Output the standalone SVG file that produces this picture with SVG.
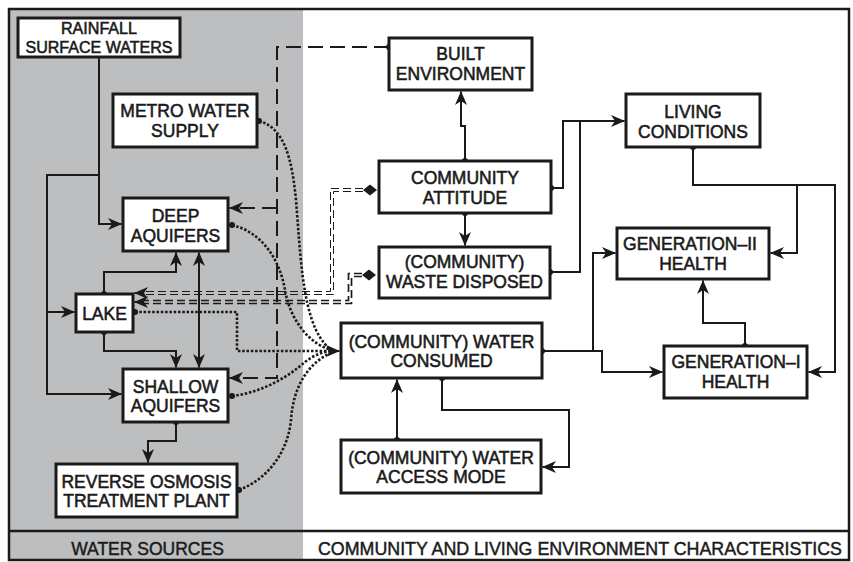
<svg xmlns="http://www.w3.org/2000/svg" width="853" height="562" viewBox="0 0 853 562">
<style>
.box{fill:#fff;stroke:#1a1a1a;stroke-width:3}
.t{font-family:"Liberation Sans",Arial,sans-serif;font-size:17.5px;fill:#1a1a1a;stroke:#1a1a1a;stroke-width:0.55;text-anchor:middle}
.ft{font-family:"Liberation Sans",Arial,sans-serif;font-size:18px;fill:#1a1a1a;stroke:#1a1a1a;stroke-width:0.45}
.ln{fill:none;stroke:#1a1a1a;stroke-width:2}
.ds{fill:none;stroke:#1a1a1a;stroke-width:2;stroke-dasharray:15 7}
.dd1{fill:none;stroke:#1a1a1a;stroke-width:1;stroke-dasharray:8 4}
.dd2{fill:none;stroke:#1a1a1a;stroke-width:1.7;stroke-dasharray:8 4}
.dt{fill:none;stroke:#1a1a1a;stroke-width:2.6;stroke-dasharray:2.5 1.8}
.a{marker-end:url(#arr)}
.s{marker-start:url(#dot)}
</style>
<defs>
<marker id="arr" viewBox="0 0 14 12" refX="13.5" refY="6" markerWidth="14" markerHeight="12" markerUnits="userSpaceOnUse" orient="auto-start-reverse">
<path d="M0,0 L14,6 L0,12 L4,6 z" fill="#1a1a1a"/>
</marker>
<marker id="dot" viewBox="0 0 8 8" refX="4" refY="4" markerWidth="7" markerHeight="7" markerUnits="userSpaceOnUse">
<circle cx="4" cy="4" r="3.5" fill="#1a1a1a"/>
</marker>
</defs>
<rect x="0" y="0" width="853" height="562" fill="#fff"/>
<g id="background">
<rect x="9" y="9" width="294" height="552" fill="#bcbec0"/>
<rect x="9" y="9" width="840" height="551" fill="none" stroke="#1a1a1a" stroke-width="2.5"/>
<line x1="9" y1="531" x2="849" y2="531" stroke="#1a1a1a" stroke-width="2.5"/>
<text class="ft" x="147.5" y="555" text-anchor="middle" style="font-size:17.5px">WATER SOURCES</text>
<text class="ft" x="318" y="555" textLength="524" lengthAdjust="spacingAndGlyphs">COMMUNITY AND LIVING ENVIRONMENT CHARACTERISTICS</text>
</g>
<g id="connectors">
<path class="ln a" d="M99,57 V224 H121.5"/>
<path class="ln a" d="M99,175 H47 V394 H121.5"/>
<path class="ln a" d="M47,312 H74.5"/>
<path class="ln a s" d="M104,294 V272 H176 V252.5"/>
<path class="ln a s" d="M104,332 V351 H176 V367.5"/>
<path class="ln a" style="marker-start:url(#arr)" d="M199,252.5 V367.5"/>
<path class="ln a s" d="M176,422 V441 H148 V462.5"/>
<path class="ln a s" d="M465,161 V126 H461 V91.5"/>
<path class="ln a s" d="M465,213 V245.5"/>
<path class="ln a s" d="M551,188 H563 V121 H624.5"/>
<path class="ln s" d="M550,272 H580 V121"/>
<path class="ln a s" d="M693,147 V185 H835 V372 H808.5"/>
<path class="ln a" d="M797,185 V253 H770.5"/>
<path class="ln a s" d="M542,351 H602 V372 H662.5"/>
<path class="ln a" d="M593,351 V253 H615.5"/>
<path class="ln a s" d="M745,346 V323 H703 V280.5"/>
<path class="ln a s" d="M442,378 V410 H569 V467 H542.5"/>
<path class="ln a s" d="M397,440 V379.5"/>
<path class="ds s" d="M389,47 H277 V378 H236"/>
<path class="ds" d="M277,208 H236"/>
<path class="ln a" d="M238,378 H229.5"/>
<path class="ln a" d="M238,208 H229.5"/>
<polygon points="363,190 370,184.5 377,190 370,195.5" fill="#1a1a1a"/>
<polygon points="362,275 369,269.5 376,275 369,280.5" fill="#1a1a1a"/>
<path class="dd1" d="M363,188.5 H330.5 V291.5 H140"/>
<path class="dd1" d="M363,191.5 H333.5 V294.5 H140"/>
<path class="dd2" d="M362,273.5 H348.5 V300.5 H140"/>
<path class="dd2" d="M362,276.5 H351.5 V303.5 H140"/>
<path class="ln a" d="M142,293 H134.5"/>
<path class="ln a" d="M142,302 H134.5"/>
<path class="dt s" d="M259,121 C285,128 292,160 296,200 C300,250 302,300 316,330 Q324,346 332,350"/>
<path class="dt s" d="M232,225 C262,232 280,260 285,290 C290,320 310,345 332,350"/>
<path class="dt s" d="M135,312 H237 V351 H332"/>
<path class="dt s" d="M232,396 C265,392 290,375 305,362 Q318,352 332,351"/>
<path class="dt s" d="M239,490 C270,478 288,450 291,420 C293,390 305,365 332,352"/>
<path class="ln a" d="M330,351 H339.5"/>
</g>
<g id="rainfall"><rect class="box" x="18" y="18" width="162" height="39"/><text class="t" x="99" y="34" style="font-size:16px" textLength="76" lengthAdjust="spacingAndGlyphs">RAINFALL</text><text class="t" x="99" y="53" style="font-size:16px" textLength="147" lengthAdjust="spacingAndGlyphs">SURFACE WATERS</text></g>
<g id="metro"><rect class="box" x="113" y="94" width="144" height="53"/><text class="t" x="185" y="117">METRO WATER</text><text class="t" x="185" y="137">SUPPLY</text></g>
<g id="built"><rect class="box" x="389" y="38" width="143" height="52"/><text class="t" x="460.5" y="59.5">BUILT</text><text class="t" x="460.5" y="80">ENVIRONMENT</text></g>
<g id="attitude"><rect class="box" x="379" y="161" width="172" height="52"/><text class="t" x="465" y="183.5">COMMUNITY</text><text class="t" x="465" y="203.5">ATTITUDE</text></g>
<g id="waste"><rect class="box" x="379" y="247" width="171" height="51"/><text class="t" x="464.5" y="268">(COMMUNITY)</text><text class="t" x="464.5" y="288">WASTE DISPOSED</text></g>
<g id="consumed"><rect class="box" x="341" y="323" width="201" height="55"/><text class="t" x="441.5" y="347.5">(COMMUNITY) WATER</text><text class="t" x="441.5" y="367">CONSUMED</text></g>
<g id="access"><rect class="box" x="341" y="440" width="200" height="53"/><text class="t" x="441" y="464">(COMMUNITY) WATER</text><text class="t" x="441" y="483">ACCESS MODE</text></g>
<g id="living"><rect class="box" x="626" y="94" width="134" height="53"/><text class="t" x="693" y="118">LIVING</text><text class="t" x="693" y="138">CONDITIONS</text></g>
<g id="gen2"><rect class="box" x="617" y="228" width="152" height="51"/><text class="t" x="690" y="249.5">GENERATION–II</text><text class="t" x="693" y="269.5">HEALTH</text></g>
<g id="gen1"><rect class="box" x="664" y="346" width="143" height="52"/><text class="t" x="736" y="368">GENERATION–I</text><text class="t" x="735.5" y="388">HEALTH</text></g>
<g id="deep"><rect class="box" x="123" y="198" width="105" height="53"/><text class="t" x="175.5" y="222">DEEP</text><text class="t" x="175.5" y="242">AQUIFERS</text></g>
<g id="lake"><rect class="box" x="76" y="294" width="57" height="38"/><text class="t" x="104.5" y="320">LAKE</text></g>
<g id="shallow"><rect class="box" x="123" y="369" width="105" height="53"/><text class="t" x="175.5" y="392.5">SHALLOW</text><text class="t" x="175.5" y="411.5">AQUIFERS</text></g>
<g id="ro"><rect class="box" x="56" y="464" width="181" height="53"/><text class="t" x="146.5" y="488">REVERSE OSMOSIS</text><text class="t" x="146.5" y="507">TREATMENT PLANT</text></g>
</svg>
